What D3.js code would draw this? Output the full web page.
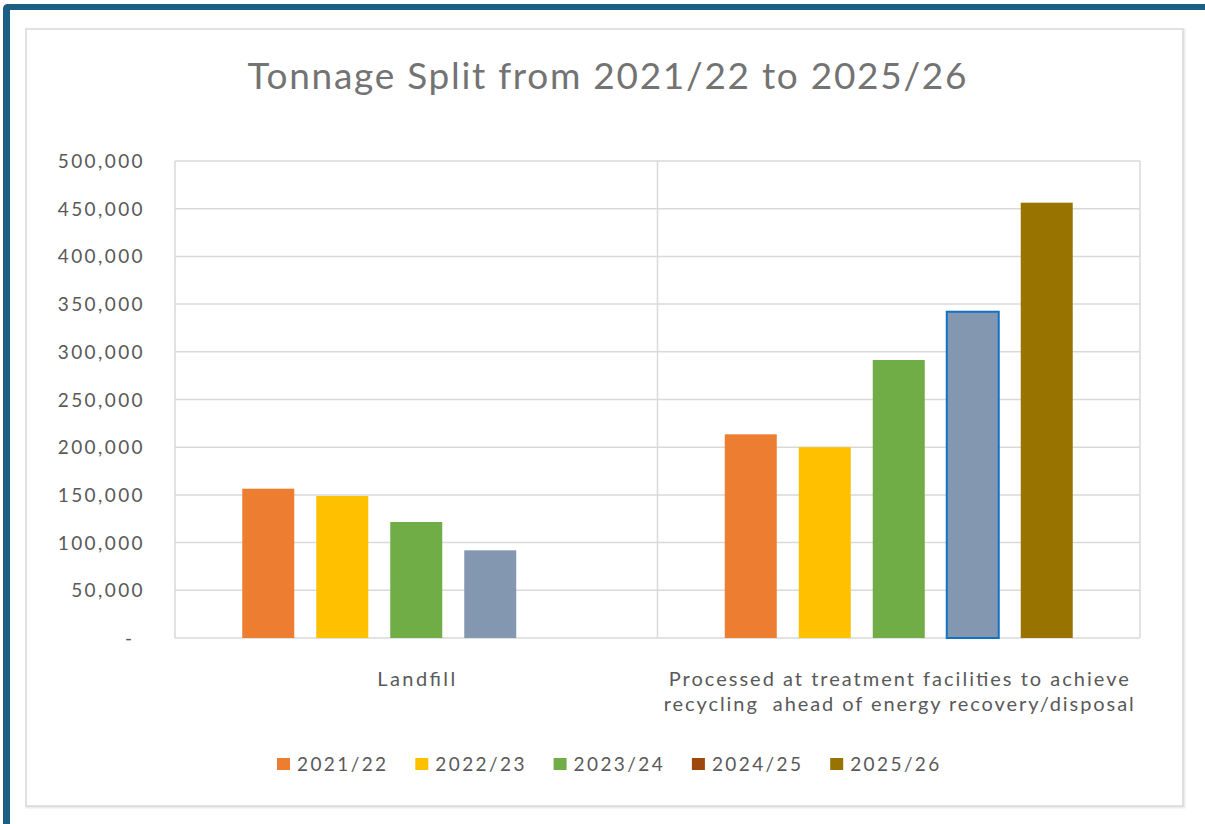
<!DOCTYPE html>
<html>
<head>
<meta charset="utf-8">
<script src="https://cdn.jsdelivr.net/npm/d3@7"></script>
<style>
  html, body { margin: 0; padding: 0; background: #ffffff; }
  svg { display: block; }
  text { white-space: pre; }
</style>
</head>
<body>
<svg id="chart" width="1205" height="824"></svg>
<script>
// ---- data ----
const categories = ["Landfill", "Processed at treatment facilities to achieve|recycling  ahead of energy recovery/disposal"];
const years = ["2021/22", "2022/23", "2023/24", "2024/25", "2025/26"];
const landfill = [156500, 148800, 121600, 91900, null];
const processed = [213500, 200000, 291400, 342000, 456300];
const yTicks = [0, 50000, 100000, 150000, 200000, 250000, 300000, 350000, 400000, 450000, 500000];
const titleText = "Tonnage Split from 2021/22 to 2025/26";

// ---- styles ----
const legendColors = ["#ED7D31", "#FFC000", "#70AD47", "#9E480E", "#997300"];
const barColors = ["#ED7D31", "#FFC000", "#70AD47", "#8497B0", "#997300"];
const seriesValues = [landfill, processed];

const svg = d3.select("#chart");

// dark blue frame
const frame = "#1B5F83";
svg.append("path")
  .attr("d", "M3,824 L3,9 Q3,4 8,4 L1205,4 L1205,10 L10,10 L10,824 Z")
  .attr("fill", frame);

// chart area border
svg.append("rect").attr("x", 27).attr("y", 30).attr("width", 1157).attr("height", 777)
  .attr("fill", "none").attr("stroke", "#ececec").attr("stroke-width", 3);
svg.append("rect").attr("x", 26).attr("y", 29).attr("width", 1157).attr("height", 777)
  .attr("fill", "#ffffff").attr("stroke", "#d9d9d9").attr("stroke-width", 1.5);

// ---- scales ----
const plot = { left: 175, right: 1140, top: 161, bottom: 638 };
const y = d3.scaleLinear().domain([0, 500000]).range([plot.bottom, plot.top]);
const x0 = d3.scaleBand().domain(categories).range([plot.left, plot.right]).padding(0);
const x1 = d3.scaleBand().domain(years).range([0, x0.bandwidth()])
  .paddingInner(22 / 74).paddingOuter(0.909);

const fontFam = "Lato, 'Open Sans', sans-serif";
const textCol = "#595959";

// gridlines
const grid = svg.append("g");
grid.selectAll("line.h").data(yTicks).join("line")
  .attr("x1", plot.left).attr("x2", plot.right)
  .attr("y1", d => y(d)).attr("y2", d => y(d))
  .attr("stroke", "#d9d9d9").attr("stroke-width", 1.5);
const vBounds = [plot.left].concat(categories.map(c => x0(c) + x0.bandwidth()));
grid.selectAll("line.v").data(vBounds).join("line")
  .attr("x1", d => d).attr("x2", d => d)
  .attr("y1", plot.top).attr("y2", plot.bottom)
  .attr("stroke", "#d9d9d9").attr("stroke-width", 1.5);

// y tick labels
const fmt = d3.format(",");
svg.append("g").selectAll("text").data(yTicks).join("text")
  .attr("x", d => d === 0 ? 132 : 145)
  .attr("y", d => y(d) + 7)
  .attr("text-anchor", "end")
  .attr("font-family", fontFam).attr("font-size", 19)
  .attr("letter-spacing", d => d === 0 ? 0 : 2.4)
  .attr("fill", textCol)
  .text(d => d === 0 ? "-" : fmt(d));

// bars
const groups = svg.append("g").selectAll("g").data(categories).join("g")
  .attr("transform", c => `translate(${x0(c)},0)`);
groups.each(function(c, ci) {
  const vals = years.map((yr, i) => ({ yr, i, v: seriesValues[ci][i] })).filter(d => d.v != null);
  d3.select(this).selectAll("rect").data(vals).join("rect")
    .attr("x", d => x1(d.yr))
    .attr("width", x1.bandwidth())
    .attr("y", d => y(d.v))
    .attr("height", d => y(0) - y(d.v))
    .attr("fill", d => barColors[d.i])
    .attr("stroke", d => (ci === 1 && d.i === 3) ? "#1273C4" : "none")
    .attr("stroke-width", d => (ci === 1 && d.i === 3) ? 2 : 0);
});

// category labels
const catWidths = [[78], [460, 470]];
svg.append("g").selectAll("text").data(categories).join("text")
  .attr("text-anchor", "middle")
  .attr("font-family", fontFam).attr("font-size", 20)
  .attr("fill", textCol)
  .each(function(c, ci) {
    const lines = c.split("|");
    const t = d3.select(this);
    lines.forEach((ln, li) => {
      t.append("tspan")
        .attr("x", x0(c) + x0.bandwidth() / 2)
        .attr("y", 686 + li * 25)
        .attr("textLength", catWidths[ci][li])
        .attr("lengthAdjust", "spacing")
        .text(ln);
    });
  });

// title
svg.append("text")
  .attr("x", 607).attr("y", 89)
  .attr("text-anchor", "middle")
  .attr("font-family", fontFam).attr("font-size", 37)
  .attr("fill", "#737373")
  .attr("textLength", 719).attr("lengthAdjust", "spacing")
  .text(titleText);

// legend
const legStart = 277, legStep = 138.3;
const leg = svg.append("g").selectAll("g").data(years).join("g")
  .attr("transform", (d, i) => `translate(${legStart + i * legStep},758)`);
leg.append("rect").attr("x", 0).attr("y", 0).attr("width", 13).attr("height", 12)
  .attr("fill", (d, i) => legendColors[i]);
leg.append("text").attr("x", 20).attr("y", 13)
  .attr("font-family", fontFam).attr("font-size", 19)
  .attr("letter-spacing", 2.4)
  .attr("fill", textCol)
  .text(d => d);
</script>
</body>
</html>
